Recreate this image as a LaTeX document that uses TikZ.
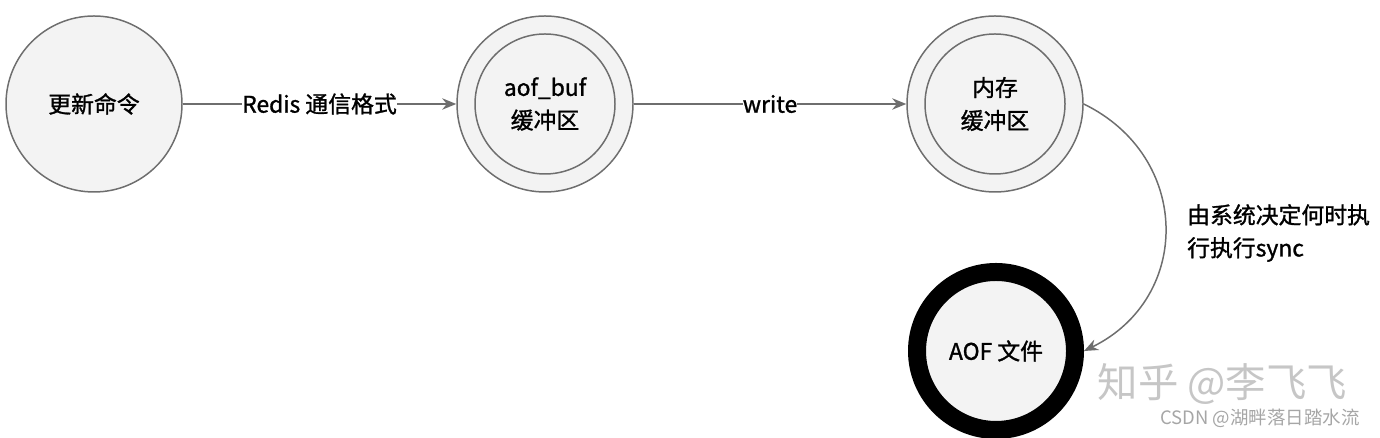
\documentclass[tikz,border=0pt]{standalone}
\usepackage{fontspec}
\setmainfont[AutoFakeBold=1.2]{Noto Sans CJK SC}
\usetikzlibrary{arrows.meta}
\definecolor{linegray}{HTML}{6E6E6E}
\definecolor{nodefill}{HTML}{F3F3F3}

\begin{document}
\begin{tikzpicture}[>={Stealth[length=8pt,width=6.5pt]},
    state/.style={circle, draw=linegray, line width=0.85pt, fill=nodefill, minimum size=3.52cm, inner sep=0pt, align=center, font=\fontsize{13}{18.7}\selectfont\bfseries},
    ring/.style={draw=linegray, line width=0.85pt},
    flow/.style={->, draw=linegray, line width=0.85pt},
    lbl/.style={fill=white, inner sep=0pt, font=\fontsize{13}{18.7}\selectfont\bfseries}]
    \useasboundingbox (0,0) rectangle (27.6,8.76);

    % Define coordinates
    \coordinate (P1) at (1.88,6.68);
    \coordinate (P2) at (10.9,6.68);
    \coordinate (P3) at (19.9,6.68);
    \coordinate (P4) at (19.92,1.74);

    % Draw the states
    \node[state] (cmd) at (P1) {更新命令};
    \node[state] (buf) at (P2) {aof\_buf\\缓冲区};
    \node[state] (mem) at (P3) {内存\\缓冲区};
    \node[state, draw=black, line width=0.36cm, minimum size=3.16cm] (aof) at (P4) {AOF 文件};
    \draw[ring] (buf.center) circle[radius=1.4];
    \draw[ring] (mem.center) circle[radius=1.4];

    % Draw transitions
    \draw[flow] (cmd) -- node[lbl] {Redis 通信格式} (buf);
    \draw[flow] (buf) -- node[lbl] {write} (mem);
    \draw[flow] (mem.east) to[out=-26, in=26, looseness=1.25] (aof.east);
    \node[anchor=west, align=left, font=\fontsize{13}{18.7}\selectfont\bfseries] (synclbl) at (23.62,4.1) {由系统决定何时执\\行执行sync};

    % Watermarks
    \node[text=gray!45, font=\fontsize{23}{26}\selectfont] (zhihu) at (24.45,1.08) {知乎 @李飞飞};
    \node[text=gray!70, font=\fontsize{10.5}{12}\selectfont] (csdn) at (25.2,0.4) {CSDN @湖畔落日踏水流};
\end{tikzpicture}
\end{document}
